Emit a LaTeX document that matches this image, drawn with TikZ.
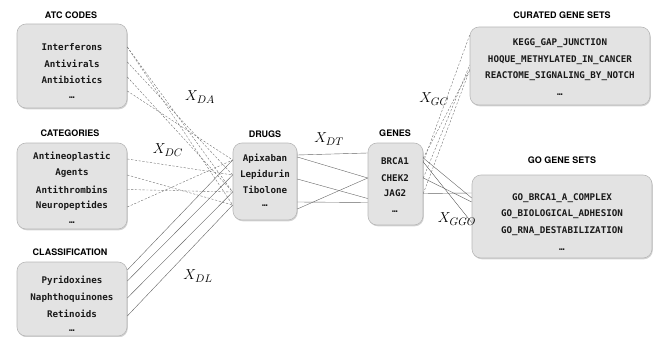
\documentclass[tikz,border=0pt]{standalone}
\usepackage{fontspec}
\setsansfont{TeX Gyre Heros}
\newfontfamily\itemfont{DejaVu Sans Mono}
\usetikzlibrary{shadows}
\begin{document}
\begin{tikzpicture}[x=1pt,y=-1pt,
 box/.style={draw=black!28, fill=black!11, rounded corners=9pt, line width=0.6pt,
   drop shadow={shadow xshift=0.8pt, shadow yshift=-1.3pt, opacity=0.35}},
 ttl/.style={font=\sffamily\bfseries\fontsize{9}{10}\selectfont, inner sep=0pt},
 itm/.style={font=\itemfont\bfseries\fontsize{9.2}{10}\selectfont, inner sep=0pt, text=black!90},
 lbl/.style={font=\fontsize{15}{16}\selectfont, inner sep=0pt},
 dsh/.style={draw=black!55, line width=0.4pt, dash pattern=on 2.2pt off 1.6pt},
 sol/.style={draw=black!60, line width=0.4pt}]
\useasboundingbox (0,0) rectangle (654,337);

% boxes
\node[box, minimum width=110pt, minimum height=84pt] (atc) at (72,66) {};
\node[box, minimum width=110pt, minimum height=86pt] (cat) at (72,186) {};
\node[box, minimum width=110pt, minimum height=74pt] (cls) at (72,299) {};
\node[box, minimum width=64pt, minimum height=77pt] (drg) at (265,181.5) {};
\node[box, minimum width=55pt, minimum height=82pt] (gen) at (395.5,184) {};
\node[box, minimum width=180pt, minimum height=78pt] (cur) at (560,66) {};
\node[box, minimum width=180pt, minimum height=83pt] (gos) at (562,216.5) {};

% titles
\node[ttl] (tatc) at (71,15.5) {ATC CODES};
\node[ttl] (tcat) at (70,133.5) {CATEGORIES};
\node[ttl] (tcls) at (70,252) {CLASSIFICATION};
\node[ttl] (tdrg) at (265,134.5) {DRUGS};
\node[ttl] (tgen) at (395,133.5) {GENES};
\node[ttl] (tcur) at (562,15.5) {CURATED GENE SETS};
\node[ttl] (tgos) at (562,160) {GO GENE SETS};

% items
\node[itm] (a1) at (72,47) {Interferons};
\node[itm] (a2) at (72,63.5) {Antivirals};
\node[itm] (a3) at (72,80) {Antibiotics};
\node[itm] (a4) at (72,98) {…};

\node[itm] (c1) at (72,156.5) {Antineoplastic};
\node[itm] (c2) at (72,173) {Agents};
\node[itm] (c3) at (72,189.5) {Antithrombins};
\node[itm] (c4) at (72,206) {Neuropeptides};
\node[itm] (c5) at (72,223) {…};

\node[itm] (l1) at (72,281) {Pyridoxines};
\node[itm] (l2) at (72,298) {Naphthoquinones};
\node[itm] (l3) at (72,314) {Retinoids};
\node[itm] (l4) at (72,331) {…};

\node[itm] (d1) at (265,159) {Apixaban};
\node[itm] (d2) at (265,175) {Lepidurin};
\node[itm] (d3) at (265,190) {Tibolone};
\node[itm] (d4) at (265,206) {…};

\node[itm] (g1) at (395,161) {BRCA1};
\node[itm] (g2) at (395,178) {CHEK2};
\node[itm] (g3) at (395,193.5) {JAG2};
\node[itm] (g4) at (395,212) {…};

\node[itm] (k1) at (560,43.5) {KEGG\_GAP\_JUNCTION};
\node[itm] (k2) at (560,60) {HOQUE\_METHYLATED\_IN\_CANCER};
\node[itm] (k3) at (560,76.5) {REACTOME\_SIGNALING\_BY\_NOTCH};
\node[itm] (k4) at (560,95) {…};

\node[itm] (o1) at (562,198) {GO\_BRCA1\_A\_COMPLEX};
\node[itm] (o2) at (562,214.5) {GO\_BIOLOGICAL\_ADHESION};
\node[itm] (o3) at (562,231) {GO\_RNA\_DESTABILIZATION};
\node[itm] (o4) at (562,250) {…};

% connection points
\coordinate (pa1) at (atc.east |- a1);
\coordinate (pa2) at ([yshift=1.5pt]atc.east |- a2);
\coordinate (pa3) at ([yshift=3pt]atc.east |- a3);
\coordinate (pa4) at ([yshift=7pt]atc.east |- a4);
\coordinate (pc1) at ([yshift=-2.5pt]cat.east |- c1);
\coordinate (pc2) at ([yshift=-2pt]cat.east |- c2);
\coordinate (pc3) at (cat.east |- c3);
\coordinate (pc4) at ([yshift=-1pt]cat.east |- c4);
\coordinate (pl1) at ([yshift=11pt]cls.east |- l1);
\coordinate (pl2) at (cls.east |- l1);
\coordinate (pl3) at (cls.east |- l2);
\coordinate (pl4) at ([yshift=-2pt]cls.east |- l3);
\coordinate (qd1) at ([yshift=-1pt]drg.west |- d1);
\coordinate (qd2) at (drg.west |- d2);
\coordinate (qd3) at ([yshift=-2pt]drg.west |- d3);
\coordinate (qd4) at ([yshift=1pt]drg.west |- d4);
\coordinate (rd1) at ([yshift=4pt]drg.east |- d1);
\coordinate (rd2) at ([yshift=2pt]drg.east |- d1);
\coordinate (rd3) at ([yshift=-4pt]drg.east |- d2);
\coordinate (rd4) at ([yshift=4pt]drg.east |- d4);
\coordinate (rd5) at ([yshift=-3pt]drg.east |- d4);
\coordinate (lg1) at ([yshift=8pt]gen.west |- g1);
\coordinate (lg2) at (gen.west |- g2);
\coordinate (lg3) at ([yshift=-5pt]gen.west |- g3);
\coordinate (lg4) at ([yshift=-9pt]gen.west |- g3);
\coordinate (sg1) at ([yshift=3pt]gen.east |- g1);
\coordinate (sg2) at ([yshift=-1pt]gen.east |- g1);
\coordinate (sg3) at (gen.east |- g2);
\coordinate (sg4) at (gen.east |- g3);
\coordinate (tc1) at ([yshift=8.5pt]cur.west |- k1);
\coordinate (tc2) at ([yshift=-5pt]cur.west |- k2);
\coordinate (tc3) at ([yshift=-10pt]cur.west |- k2);
\coordinate (tc4) at ([yshift=7pt]cur.west |- k3);
\coordinate (to1) at (gos.west |- o1);
\coordinate (to2) at ([yshift=-4pt]gos.west |- o1);
\coordinate (to3) at ([yshift=5pt]gos.west |- o1);
\coordinate (to4) at ([yshift=-8pt]gos.west |- o2);

% ATC -> drugs (dashed)
\draw[dsh] (pa1) -- (qd4);
\draw[dsh] (pa1) -- (qd3);
\draw[dsh] (pa2) -- (qd2);
\draw[dsh] (pa3) -- (qd3);
\draw[dsh] (pa4) -- (qd1);
% categories -> drugs (dashed)
\draw[dsh] (pc1) -- (qd2);
\draw[dsh] (pc2) -- (qd4);
\draw[dsh] (pc3) -- (qd3);
\draw[dsh] (pc4) -- (qd1);
% classification -> drugs (solid)
\draw[sol] (pl1) -- (qd1);
\draw[sol] (pl2) -- (qd2);
\draw[sol] (pl3) -- (qd3);
\draw[sol] (pl4) -- (qd4);
% drugs -> genes
\draw[sol] (rd1) -- (lg1);
\draw[sol] (rd2) -- (lg2);
\draw[sol] (rd3) -- (lg3);
\draw[sol] (rd4) -- (lg4);
\draw[sol] (rd5) -- (lg2);
% genes -> curated (dashed)
\draw[dsh] (sg2) -- (tc1);
\draw[dsh] (sg3) -- (tc2);
\draw[dsh] (sg4) -- (tc3);
\draw[dsh] (sg1) -- (tc4);
% genes -> GO (solid)
\draw[sol] (sg1) -- (to1);
\draw[sol] (sg2) -- (to4);
\draw[sol] (sg3) -- (to2);
\draw[sol] (sg4) -- (to3);

% labels
\node[lbl] (xda) at (200,97) {$X_{DA}$};
\node[lbl] (xdc) at (168,150) {$X_{DC}$};
\node[lbl] (xdl) at (198,276) {$X_{DL}$};
\node[lbl] (xdt) at (329,139) {$X_{DT}$};
\node[lbl] (xgc) at (434,99) {$X_{GC}$};
\node[lbl] (xgo) at (457,219) {$X_{GGO}$};
\end{tikzpicture}
\end{document}
